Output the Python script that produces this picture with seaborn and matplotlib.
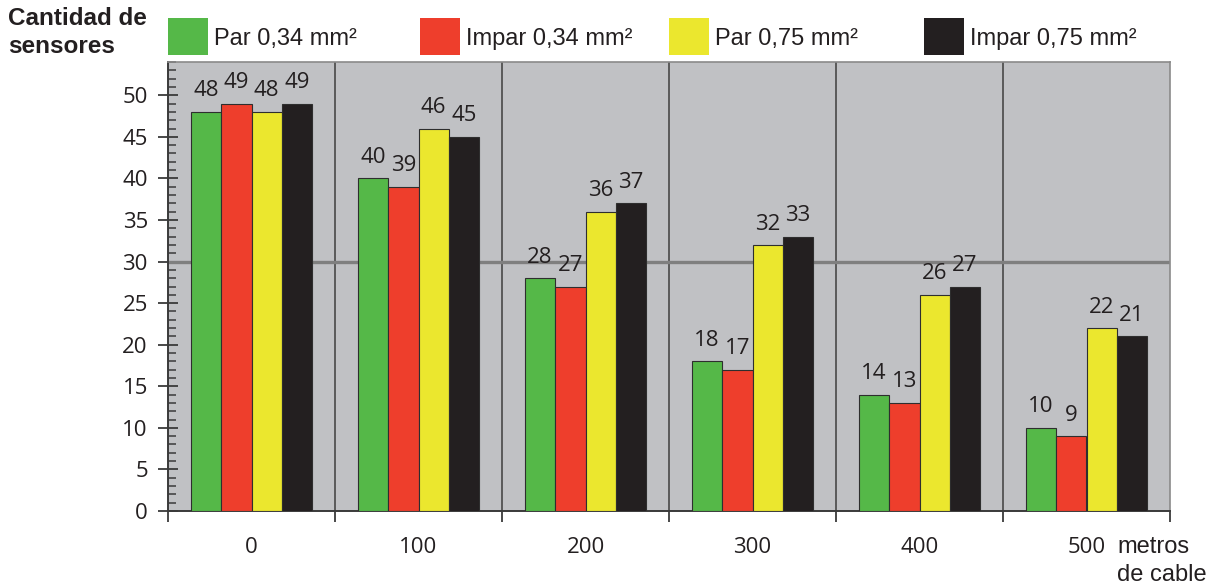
import numpy as np
import pandas as pd
import matplotlib
matplotlib.use("Agg")
import matplotlib.pyplot as plt
from matplotlib.patches import Rectangle
from matplotlib.ticker import MultipleLocator, FixedLocator
import seaborn as sns

# Cable length groups (metres) and sensor counts per cable type
distances = ["0", "100", "200", "300", "400", "500"]
series_names = ["Par 0,34 mm²", "Impar 0,34 mm²", "Par 0,75 mm²", "Impar 0,75 mm²"]
par_034 = [48, 40, 28, 18, 14, 10]
impar_034 = [49, 39, 27, 17, 13, 9]
par_075 = [48, 46, 36, 32, 26, 22]
impar_075 = [49, 45, 37, 33, 27, 21]
colors = ["#55b848", "#ee3e2c", "#ebe72e", "#231f20"]

df = pd.DataFrame({
    "distancia": distances * 4,
    "serie": sum([[s] * len(distances) for s in series_names], []),
    "sensores": par_034 + impar_034 + par_075 + impar_075,
})

sns.set_theme(style="white")
plt.rcParams["font.family"] = ["Liberation Sans", "DejaVu Sans"]
num_font = "Open Sans"
ink = "#231f20"
num_size = 16

fig = plt.figure(figsize=(12.13, 5.84), dpi=100)
ax = fig.add_axes([168 / 1213, 1 - 511 / 584, (1170 - 168) / 1213, (511 - 62) / 584])
ax.set_facecolor("#c0c1c4")

sns.barplot(data=df, x="distancia", y="sensores", hue="serie",
            hue_order=series_names, order=distances, palette=colors,
            saturation=1, width=0.725, gap=0, edgecolor="#2e2e2e",
            linewidth=0.8, legend=False, ax=ax, zorder=3)

# value labels above each bar
for container in ax.containers:
    for bar in container:
        h = bar.get_height()
        ax.annotate(f"{h:.0f}", (bar.get_x() + bar.get_width() / 2, h),
                    xytext=(0, 7.5), textcoords="offset points",
                    ha="center", va="bottom", fontsize=num_size,
                    family=num_font, color=ink, zorder=5)

ax.set_xlim(-0.5, 5.5)
ax.set_ylim(0, 54)

# group separators and reference line at 30
for xb in np.arange(0.5, 5.5, 1):
    ax.axvline(xb, color="#5a5a5a", lw=1.4, zorder=1)
ax.axhline(30, color="#7f7f7f", lw=2.4, zorder=1)

# x axis: labels at group centres, ticks at group borders
ax.xaxis.set_major_locator(FixedLocator(range(6)))
ax.set_xticklabels(distances, family=num_font, fontsize=num_size, color=ink)
ax.xaxis.set_minor_locator(FixedLocator(np.arange(-0.5, 6, 1)))
ax.tick_params(axis="x", which="major", length=0, pad=19)
ax.tick_params(axis="x", which="minor", length=8, width=1.3,
               direction="out", color="#3a3a3a", bottom=True)

# y axis: major every 5, minor every 1
ax.set_yticks(range(0, 51, 5))
ax.set_yticklabels([str(v) for v in range(0, 51, 5)], family=num_font)
ax.yaxis.set_minor_locator(MultipleLocator(1))
ax.tick_params(axis="y", which="major", length=15, width=1.3,
               direction="inout", color="#3a3a3a", labelsize=num_size,
               labelcolor=ink, pad=7, left=True)
ax.tick_params(axis="y", which="minor", length=6, width=1.1,
               direction="in", color="#3a3a3a", left=True)

ax.set_xlabel("")
ax.set_ylabel("")
for side in ["left", "bottom"]:
    ax.spines[side].set_color("#3a3a3a")
    ax.spines[side].set_linewidth(1.4)
for side in ["top", "right"]:
    ax.spines[side].set_color("#8a8a8a")
    ax.spines[side].set_linewidth(1.2)

# axis titles
fig.text(8 / 1213, 1 - 7 / 584, "Cantidad de\nsensores", ha="left", va="top",
         fontsize=17.5, fontweight="bold", color=ink, linespacing=1.3)
fig.text(1117 / 1213, 1 - 561 / 584, "metros\nde cable", ha="left", va="center",
         fontsize=17, color=ink, linespacing=1.3)

# legend row
legend_x = [168, 420, 669, 924]
for xpx, name, col in zip(legend_x, series_names, colors):
    fig.patches.append(Rectangle((xpx / 1213, 1 - 55 / 584), 40 / 1213, 37 / 584,
                                 transform=fig.transFigure, facecolor=col,
                                 edgecolor="none"))
    fig.text((xpx + 46) / 1213, 1 - 39 / 584, name, ha="left", va="center",
             fontsize=17, color=ink)

fig.savefig("out.png", dpi=100)
